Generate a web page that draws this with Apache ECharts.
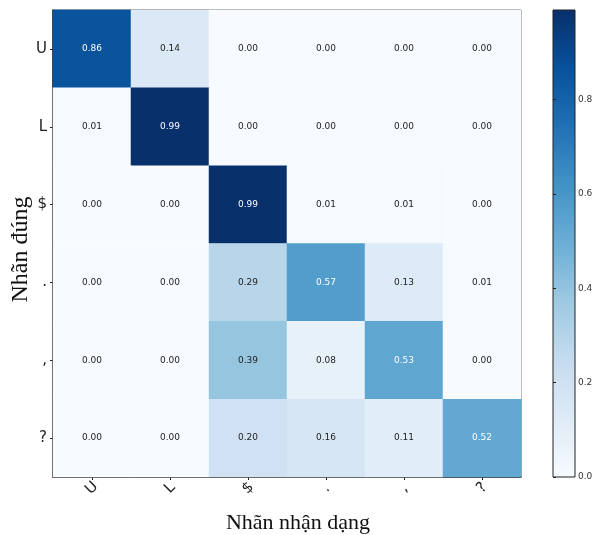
<!DOCTYPE html>
<html><head><meta charset="utf-8">
<script src="https://cdn.jsdelivr.net/npm/echarts@6/dist/echarts.min.js"></script>
<style>html,body{margin:0;padding:0;background:#fff}#c{width:593px;height:535px}</style>
</head><body><div id="c"></div>
<script>
const xLabels = ['U', 'L', '$', '.', ',', '?'];
const yLabels = ['U', 'L', '$', '.', ',', '?'];
const rowU = [0.86, 0.14, 0.00, 0.00, 0.00, 0.00];
const rowL = [0.01, 0.99, 0.00, 0.00, 0.00, 0.00];
const rowDollar = [0.00, 0.00, 0.99, 0.01, 0.01, 0.00];
const rowDot = [0.00, 0.00, 0.29, 0.57, 0.13, 0.01];
const rowComma = [0.00, 0.00, 0.39, 0.08, 0.53, 0.00];
const rowQ = [0.00, 0.00, 0.20, 0.16, 0.11, 0.52];
const colorbarTicks = [0.0, 0.2, 0.4, 0.6, 0.8];
const xTitle = 'Nhãn nhận dạng';
const yTitle = 'Nhãn đúng';

const rows = [rowU, rowL, rowDollar, rowDot, rowComma, rowQ];
const vmax = 0.99;
const blues = ['#f7fbff','#deebf7','#c6dbef','#9ecae1','#6baed6','#4292c6','#2171b5','#08519c','#08306b'];
const data = [];
rows.forEach((r, yi) => r.forEach((v, xi) => {
  data.push({value: [xi, yi, v], label: {color: v > vmax / 2 ? '#ffffff' : '#222222'}});
}));

const chart = echarts.init(document.getElementById('c'));
const stops = blues.map((c, i) => ({offset: i / (blues.length - 1), color: c}));
chart.setOption({
  animation: false,
  backgroundColor: '#fff',
  grid: [
    {left: 53, top: 10, width: 468, height: 467, show: true, borderColor: '#555', borderWidth: 1,
     backgroundColor: 'transparent', containLabel: false, outerBoundsMode: 'none'},
    {left: 553, top: 10, width: 22, height: 467, show: true, borderColor: '#222', borderWidth: 1,
     containLabel: false, outerBoundsMode: 'none',
     backgroundColor: new echarts.graphic.LinearGradient(0, 1, 0, 0, stops)}
  ],
  xAxis: [
    {type: 'category', data: xLabels, gridIndex: 0, position: 'bottom',
     axisLine: {lineStyle: {color: '#222', width: 1.5}},
     axisTick: {show: true, alignWithLabel: true, length: 3, lineStyle: {color: '#222'}},
     axisLabel: {rotate: 45, fontSize: 15, color: '#222', fontFamily: 'DejaVu Sans', margin: 11,
                 align: 'center', verticalAlign: 'middle'},
     splitLine: {show: false},
     name: xTitle, nameLocation: 'middle', nameGap: 35,
     nameTextStyle: {fontFamily: 'Liberation Serif', fontSize: 22, color: '#111', padding: [0, 0, 0, 22]}},
    {type: 'value', gridIndex: 1, show: false, min: 0, max: 1}
  ],
  yAxis: [
    {type: 'category', data: yLabels, gridIndex: 0, inverse: true,
     axisLine: {lineStyle: {color: '#222', width: 1.5}},
     axisTick: {show: true, alignWithLabel: true, length: 3, lineStyle: {color: '#222'}},
     axisLabel: {fontSize: 15, color: '#222', fontFamily: 'DejaVu Sans', margin: 6},
     splitLine: {show: false},
     name: yTitle, nameLocation: 'middle', nameGap: 20, nameRotate: 90, nameMoveOverlap: false,
     nameTextStyle: {fontFamily: 'Liberation Serif', fontSize: 24, color: '#111', padding: [0, 12, 0, 0]}},
    {type: 'value', gridIndex: 1, position: 'right', min: 0, max: vmax,
     axisLine: {show: false},
     axisTick: {show: true, length: 3, lineStyle: {color: '#222'},
                customValues: colorbarTicks},
     axisLabel: {fontSize: 9, color: '#333', margin: 3, fontFamily: 'DejaVu Sans',
                 customValues: colorbarTicks, formatter: v => v.toFixed(1)},
     splitLine: {show: false}}
  ],
  visualMap: {show: false, min: 0, max: vmax, dimension: 2, seriesIndex: 0, inRange: {color: blues}},
  series: [{
    type: 'heatmap', xAxisIndex: 0, yAxisIndex: 0, data: data,
    label: {show: true, fontSize: 9, fontFamily: 'DejaVu Sans', formatter: p => p.value[2].toFixed(2)},
    itemStyle: {borderWidth: 0}
  }]
});
</script></body></html>
